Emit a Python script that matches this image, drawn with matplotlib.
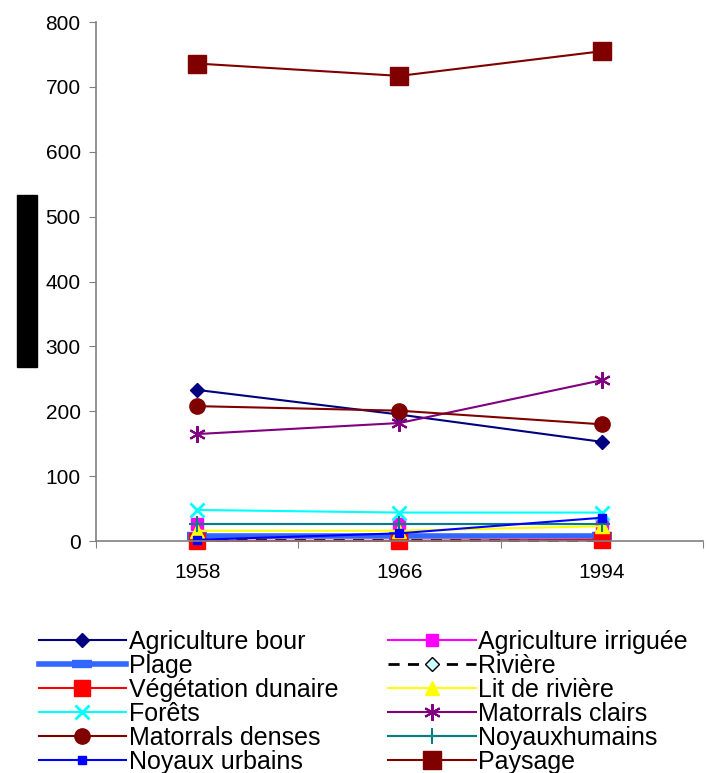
import matplotlib
matplotlib.use("Agg")
import matplotlib.pyplot as plt
from matplotlib.patches import Rectangle

plt.rcParams['font.family'] = ['Liberation Sans', 'DejaVu Sans']

years = ['1958', '1966', '1994']

agriculture_bour = [233, 195, 153]
agriculture_irriguee = [26, 26, 26]
plage = [8, 8, 8]
riviere = [1, 1, 1]
vegetation_dunaire = [0.5, 0.5, 2]
lit_de_riviere = [16, 16, 23]
forets = [48, 44, 44]
matorrals_clairs = [165, 182, 248]
matorrals_denses = [208, 201, 180]
noyaux_humains = [27, 27, 27]
noyaux_urbains = [2, 12, 36]
paysage = [736, 717, 755]

series = [
    ("Agriculture bour", agriculture_bour, dict(color='#000080', marker='D', ms=7, mfc='#000080', mec='#000080')),
    ("Agriculture irriguée", agriculture_irriguee, dict(color='#FF00FF', marker='s', ms=9, mfc='#FF00FF', mec='#FF00FF')),
    ("Plage", plage, dict(color='#3366FF', lw=4, marker='_', ms=14, mew=6, mec='#3366FF')),
    ("Rivière", riviere, dict(color='black', ls=(0, (4, 3)), lw=2, marker='D', ms=7, mfc='#CCFFFF', mec='black', mew=1)),
    ("Végétation dunaire", vegetation_dunaire, dict(color='#FF0000', marker='s', ms=11, mfc='#FF0000', mec='#FF0000')),
    ("Lit de rivière", lit_de_riviere, dict(color='#FFFF00', marker='^', ms=10, mfc='#FFFF00', mec='#FFFF00')),
    ("Forêts", forets, dict(color='#00FFFF', marker='x', ms=10, mew=2, mec='#00FFFF')),
    ("Matorrals clairs", matorrals_clairs, dict(color='#800080', marker=(6, 2, 0), ms=12, mew=1.5, mec='#800080')),
    ("Matorrals denses", matorrals_denses, dict(color='#800000', marker='o', ms=11, mfc='#800000', mec='#800000')),
    ("Noyauxhumains", noyaux_humains, dict(color='#008080', marker='+', ms=12, mew=1.5, mec='#008080')),
    ("Noyaux urbains", noyaux_urbains, dict(color='#0000FF', marker='s', ms=6, mfc='#0000FF', mec='#0000FF')),
    ("Paysage", paysage, dict(color='#800000', marker='s', ms=13, mfc='#800000', mec='#800000')),
]

fig = plt.figure(figsize=(7.09, 7.73), dpi=100)
ax = fig.add_axes([0.1354, 0.300, 0.8561, 0.6715])

x = list(range(len(years)))
handles = []
for label, vals, style in series:
    kw = dict(lw=1.5)
    kw.update(style)
    line, = ax.plot(x, vals, label=label, clip_on=False, **kw)
    handles.append(line)

ax.set_xlim(-0.5, 2.5)
ax.set_ylim(0, 800)
ax.set_yticks(range(0, 801, 100))
ax.set_xticks([-0.5, 0.5, 1.5, 2.5])
ax.set_xticklabels([])
ax.set_xticks(x, minor=True)
ax.set_xticklabels(years, minor=True)
ax.tick_params(axis='x', which='minor', length=0, pad=16, labelsize=15)
ax.tick_params(axis='x', which='major', length=5, direction='out', color='#808080')
ax.tick_params(axis='y', length=5, direction='out', color='#808080', labelsize=15, pad=6)

for side in ('top', 'right'):
    ax.spines[side].set_visible(False)
for side in ('left', 'bottom'):
    ax.spines[side].set_color('#808080')
    ax.spines[side].set_linewidth(1.2)

fig.patches.append(Rectangle((17 / 709, 1 - 367 / 773), 20 / 709, 172 / 773,
                             transform=fig.transFigure, color='black'))

# legend reads row by row: reorder entries for matplotlib's column-wise fill
order = list(range(0, len(handles), 2)) + list(range(1, len(handles), 2))
leg = fig.legend([handles[i] for i in order], [series[i][0] for i in order],
                 loc='upper left', bbox_to_anchor=(0.037, 0.201), ncol=2,
                 frameon=False, fontsize=18, handlelength=3.5, handletextpad=0.1,
                 labelspacing=0.0, columnspacing=2.0, borderpad=0, numpoints=1)

fig.savefig('out.png', dpi=100)
